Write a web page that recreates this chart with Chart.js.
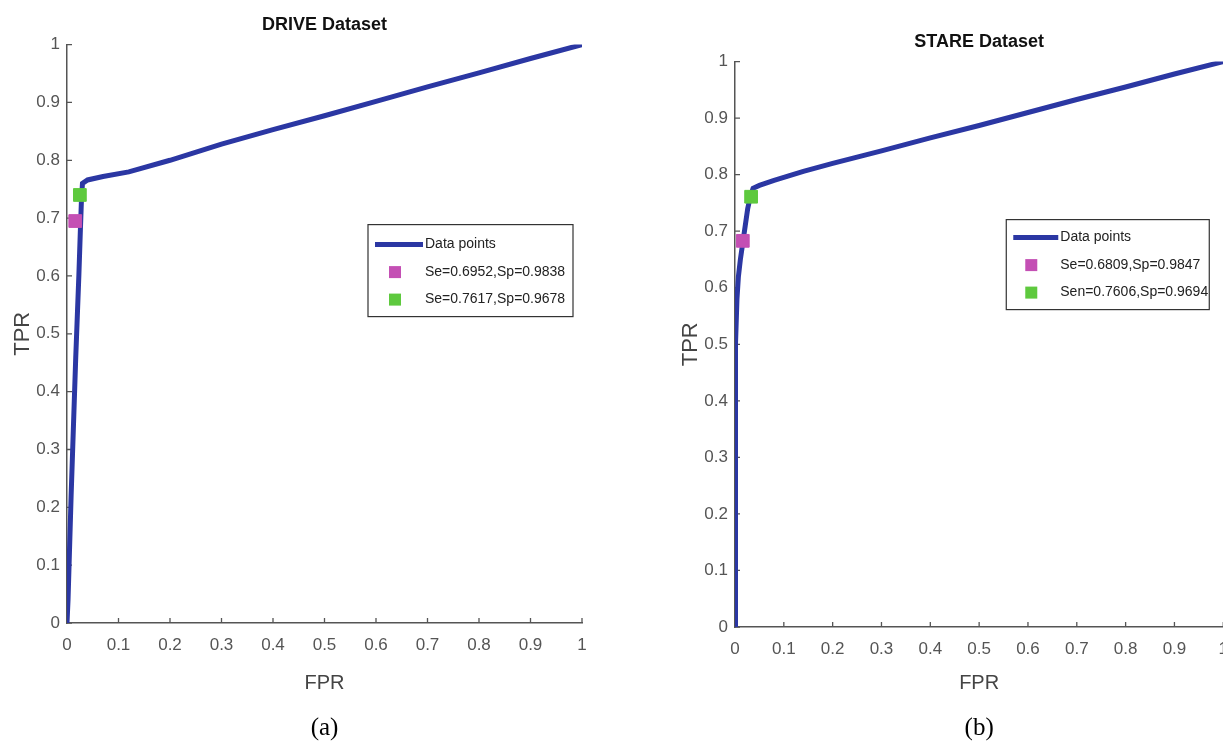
<!DOCTYPE html>
<html>
<head>
<meta charset="utf-8">
<script src="https://cdn.jsdelivr.net/npm/chart.js@4.4.0/dist/chart.umd.min.js"></script>
<style>
  html, body { margin: 0; padding: 0; background: #fff; overflow: hidden; width: 1223px; height: 743px; }
  .panel { position: absolute; top: 0; height: 743px; }
  #p1 { left: 0; width: 600px; }
  #p2 { left: 668px; width: 572px; }
</style>
</head>
<body>
<div class="panel" id="p1"><canvas id="drive"></canvas></div>
<div class="panel" id="p2"><canvas id="stare"></canvas></div>
<script>
// ROC curves
var driveFpr = [0, 0.002, 0.004, 0.006, 0.008, 0.011, 0.014, 0.017, 0.02, 0.023, 0.026, 0.028, 0.03, 0.04, 0.07, 0.12, 0.2, 0.3, 0.4, 0.5, 0.6, 0.7, 0.8, 0.9, 1];
var driveTpr = [0, 0.04, 0.1, 0.16, 0.22, 0.3, 0.38, 0.46, 0.53, 0.6, 0.68, 0.73, 0.76, 0.766, 0.772, 0.78, 0.8, 0.828, 0.853, 0.877, 0.902, 0.927, 0.951, 0.976, 1];
var driveMarkFpr = [0.016, 0.025];
var driveMarkTpr = [0.695, 0.74];
var driveMarkLabels = ['Se=0.6952,Sp=0.9838', 'Se=0.7617,Sp=0.9678'];

var stareFpr = [0, 0, 0.001, 0.002, 0.004, 0.007, 0.011, 0.016, 0.021, 0.026, 0.031, 0.037, 0.05, 0.08, 0.11, 0.14, 0.2, 0.3, 0.4, 0.5, 0.6, 0.7, 0.8, 0.9, 1];
var stareTpr = [0, 0.3, 0.4, 0.5, 0.58, 0.62, 0.65, 0.68, 0.71, 0.74, 0.76, 0.776, 0.781, 0.79, 0.798, 0.806, 0.82, 0.842, 0.865, 0.887, 0.91, 0.933, 0.955, 0.978, 1];
var stareMarkFpr = [0.016, 0.033];
var stareMarkTpr = [0.683, 0.761];
var stareMarkLabels = ['Se=0.6809,Sp=0.9847', 'Sen=0.7606,Sp=0.9694'];

var markColors = ['#c44fb4', '#5ec93e'];
var lineColor = '#2b37a3';
var axisColor = '#555';

Chart.defaults.font.family = '"Liberation Sans", Arial, sans-serif';
Chart.defaults.color = axisColor;

// matlab style ticks pointing into the plot
var innerTicks = {
  id: 'innerTicks',
  beforeDatasetsDraw: function(chart) {
    var ctx = chart.ctx, a = chart.chartArea, xs = chart.scales.x, ys = chart.scales.y;
    ctx.save();
    ctx.strokeStyle = axisColor;
    ctx.lineWidth = 1.3;
    ctx.beginPath();
    xs.ticks.forEach(function(t) {
      var px = xs.getPixelForValue(t.value);
      ctx.moveTo(px, a.bottom);
      ctx.lineTo(px, a.bottom - 5);
    });
    ys.ticks.forEach(function(t) {
      var py = ys.getPixelForValue(t.value);
      ctx.moveTo(a.left, py);
      ctx.lineTo(a.left + 5, py);
    });
    ctx.stroke();
    ctx.restore();
  }
};

// boxed legend inside the axes
var boxLegend = {
  id: 'boxLegend',
  afterDraw: function(chart, args, o) {
    var ctx = chart.ctx, a = chart.chartArea;
    var left = a.right - o.right - o.width, top = a.top + o.top;
    ctx.save();
    ctx.fillStyle = '#fff';
    ctx.fillRect(left, top, o.width, o.height);
    ctx.strokeStyle = '#333';
    ctx.lineWidth = 1.2;
    ctx.strokeRect(left, top, o.width, o.height);
    ctx.font = '14px "Liberation Sans", Arial, sans-serif';
    ctx.textBaseline = 'middle';
    chart.data.datasets.forEach(function(ds, i) {
      var cy = top + o.rowTop + i * o.rowGap;
      if (ds.showLine === false) {
        ctx.fillStyle = ds.backgroundColor;
        ctx.fillRect(left + o.markX - 6, cy - 6, 12, 12);
      } else {
        ctx.strokeStyle = ds.borderColor;
        ctx.lineWidth = 5;
        ctx.beginPath();
        ctx.moveTo(left + 7, cy);
        ctx.lineTo(left + o.textX - 2, cy);
        ctx.stroke();
      }
      ctx.fillStyle = '#222';
      ctx.fillText(ds.label, left + o.textX, cy);
    });
    ctx.restore();
  }
};

function fmt(v) {
  if (v === 0) return '0';
  if (v === 1) return '1';
  return v.toFixed(1);
}

function makeRoc(id, title, caption, fpr, tpr, markFpr, markTpr, markLabels, titleTop, padRight, xHeight, legend) {
  var datasets = [{
    label: 'Data points',
    data: fpr.map(function(f, i) { return {x: f, y: tpr[i]}; }),
    showLine: true,
    borderColor: lineColor,
    backgroundColor: lineColor,
    borderWidth: 5,
    pointRadius: 0,
    tension: 0,
    order: 2
  }];
  markLabels.forEach(function(lab, i) {
    datasets.push({
      label: lab,
      data: [{x: markFpr[i], y: markTpr[i]}],
      showLine: false,
      pointStyle: 'rect',
      pointRadius: 9,
      backgroundColor: markColors[i],
      borderColor: markColors[i],
      borderWidth: 1,
      order: 1
    });
  });

  return new Chart(id, {
    type: 'scatter',
    data: { datasets: datasets },
    plugins: [innerTicks, boxLegend],
    options: {
      responsive: true,
      maintainAspectRatio: false,
      animation: false,
      layout: { padding: { right: padRight } },
      plugins: {
        legend: { display: false },
        tooltip: { enabled: false },
        title: {
          display: true,
          text: title,
          fullSize: false,
          color: '#111',
          font: { size: 18, weight: 'bold' },
          padding: { top: titleTop, bottom: 9 }
        },
        subtitle: {
          display: true,
          text: caption,
          position: 'bottom',
          fullSize: false,
          color: '#000',
          font: { family: '"Liberation Serif", "Times New Roman", serif', size: 25 },
          padding: { top: 10, bottom: 0 }
        },
        boxLegend: legend
      },
      scales: {
        x: {
          type: 'linear',
          min: 0,
          max: 1,
          afterFit: function(s) { s.height = xHeight; },
          ticks: { stepSize: 0.1, padding: 12, font: { size: 17 }, callback: fmt },
          grid: { drawOnChartArea: false, drawTicks: false },
          border: { display: true, color: axisColor, width: 1.5 },
          title: { display: true, text: 'FPR', color: '#444', font: { size: 20 }, padding: { top: 0, bottom: 8 } }
        },
        y: {
          type: 'linear',
          min: 0,
          max: 1,
          afterFit: function(s) { s.width = 67; },
          ticks: { stepSize: 0.1, padding: 7, font: { size: 17 }, callback: fmt },
          grid: { drawOnChartArea: false, drawTicks: false },
          border: { display: true, color: axisColor, width: 1.5 },
          title: { display: true, text: 'TPR', color: '#444', font: { size: 22 }, padding: { top: 10, bottom: 0 } }
        }
      }
    }
  });
}

makeRoc('drive', 'DRIVE Dataset', '(a)', driveFpr, driveTpr, driveMarkFpr, driveMarkTpr, driveMarkLabels, 14, 18, 80,
  { right: 9, top: 180, width: 205, height: 92, rowTop: 20, rowGap: 27.5, markX: 27, textX: 57 });
makeRoc('stare', 'STARE Dataset', '(b)', stareFpr, stareTpr, stareMarkFpr, stareMarkTpr, stareMarkLabels, 31, 13, 76,
  { right: 14, top: 158, width: 203, height: 90, rowTop: 18, rowGap: 27.5, markX: 25, textX: 54 });
</script>
</body>
</html>
